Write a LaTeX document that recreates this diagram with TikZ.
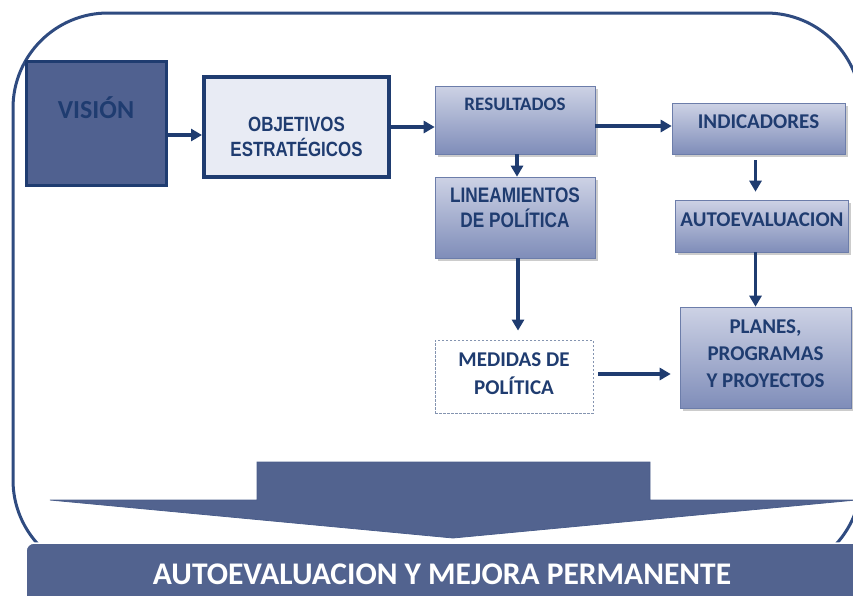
\documentclass[tikz,border=0pt]{standalone}
\usepackage{fontspec}
\setmainfont{Carlito}
\newfontfamily\narrowfont[FakeStretch=0.82]{Liberation Sans}
\usetikzlibrary{arrows.meta,shadows}
\definecolor{navy}{HTML}{1F3C70}
\definecolor{framecol}{HTML}{2F4B80}
\definecolor{visfill}{HTML}{506190}
\definecolor{objfill}{HTML}{E8EBF4}
\definecolor{boxtop}{HTML}{CDD2E5}
\definecolor{boxbot}{HTML}{7F8DB9}
\definecolor{bandfill}{HTML}{52638F}

\begin{document}
\begin{tikzpicture}[x=1pt,y=-1pt,
    caja/.style={draw=boxbot!80!navy,line width=0.6pt,top color=boxtop,bottom color=boxbot,
      drop shadow={shadow xshift=2.5pt,shadow yshift=-2.5pt,opacity=0.4},
      text=navy,font=\bfseries\fontsize{21}{27}\selectfont,align=center,inner sep=0pt},
    angosta/.style={font=\narrowfont\bfseries\fontsize{20.6}{25}\selectfont},
    flecha/.style={navy,line width=3.5pt,-{Triangle[length=11pt,width=12pt]}}]
  \useasboundingbox (0,0) rectangle (853,595);
  \clip (0,0) rectangle (853,595);

  % marco redondeado (su lado derecho queda fuera)
  \draw[framecol,line width=3pt,rounded corners=95pt] (861,150) -- (861,13) -- (13,13) -- (13,575)
    -- (861,575) -- (861,430);

  \node[draw=navy,line width=3pt,fill=visfill,minimum width=140pt,minimum height=124pt,
    text=navy,font=\bfseries\fontsize{26}{30}\selectfont,text depth=31pt,
    drop shadow={shadow xshift=2pt,shadow yshift=-2pt,opacity=0.3}]
    (vision) at (96,123) {VISIÓN};
  \node[draw=navy,line width=4pt,fill=objfill,minimum width=185pt,minimum height=100pt,
    text=navy,angosta,align=center,text height=59pt,
    drop shadow={shadow xshift=2pt,shadow yshift=-2pt,opacity=0.3}]
    (objetivos) at (296.5,127) {OBJETIVOS\\ESTRATÉGICOS};

  \node[caja,minimum width=160pt,minimum height=68pt,font=\bfseries\fontsize{19}{22}\selectfont,text depth=32pt]
    (resultados) at (515,120) {RESULTADOS};
  \node[caja,angosta,minimum width=160pt,minimum height=81pt,font=\narrowfont\bfseries\fontsize{21}{25}\selectfont,
    text depth=20pt] (lineamientos) at (515,217.5) {LINEAMIENTOS\\DE POLÍTICA};
  \node[caja,minimum width=173pt,minimum height=51pt,text depth=14pt] (indicadores) at (758.5,128.5) {INDICADORES};
  \node[caja,minimum width=173pt,minimum height=52pt,text depth=12pt] (autoeval) at (762,226) {AUTOEVALUACION};
  \node[caja,minimum width=171pt,minimum height=101pt,text depth=7pt] (planes) at (765.5,357.5) {PLANES,\\PROGRAMAS\\Y PROYECTOS};
  \node[draw=navy!55,dash pattern=on 2.5pt off 1.5pt,line width=0.8pt,fill=white,minimum width=158pt,minimum height=73pt,
    text=navy,font=\bfseries\fontsize{21}{28}\selectfont,align=center,text depth=5pt]
    (medidas) at (514,376.5) {MEDIDAS DE\\POLÍTICA};

  \draw[flecha] ([yshift=-12pt]vision.east) -- ([yshift=-8pt]objetivos.west);
  \draw[flecha] (objetivos.east) -- (objetivos.east -| resultados.west);
  \draw[flecha] ([yshift=-6pt]resultados.east) -- ([yshift=-6pt]resultados.east -| indicadores.west);
  \draw[flecha] ([xshift=2pt]resultados.south) -- ([xshift=2pt]lineamientos.north);
  \draw[flecha,shorten <=6pt,shorten >=8pt] ([xshift=-3pt]indicadores.south) -- ([xshift=-3pt]indicadores.south |- autoeval.north);
  \draw[flecha] ([xshift=-3pt]indicadores.south |- autoeval.south) -- ([xshift=-3pt]indicadores.south |- planes.north);
  \draw[flecha,shorten >=9pt] ([xshift=3pt]lineamientos.south) -- ([xshift=3pt]lineamientos.south |- medidas.north);
  \draw[flecha,shorten <=5pt,shorten >=9pt] ([yshift=2.5pt]medidas.east) -- ([yshift=2.5pt]medidas.east -| planes.west);

  % flecha grande hacia la franja inferior
  \draw[bandfill!85!navy,fill=bandfill,line width=0.8pt] (257,462) -- (650,462) -- (650,500) -- (856,500)
    -- (453,538) -- (50,500) -- (257,500) -- cycle;

  \draw[white,fill=bandfill,line width=1.5pt,rounded corners=8pt] (26,543) rectangle (890,630);
  \node[text=white,font=\bfseries\fontsize{31.5}{36}\selectfont] (lema) at (442,574) {AUTOEVALUACION Y MEJORA PERMANENTE};
\end{tikzpicture}
\end{document}
